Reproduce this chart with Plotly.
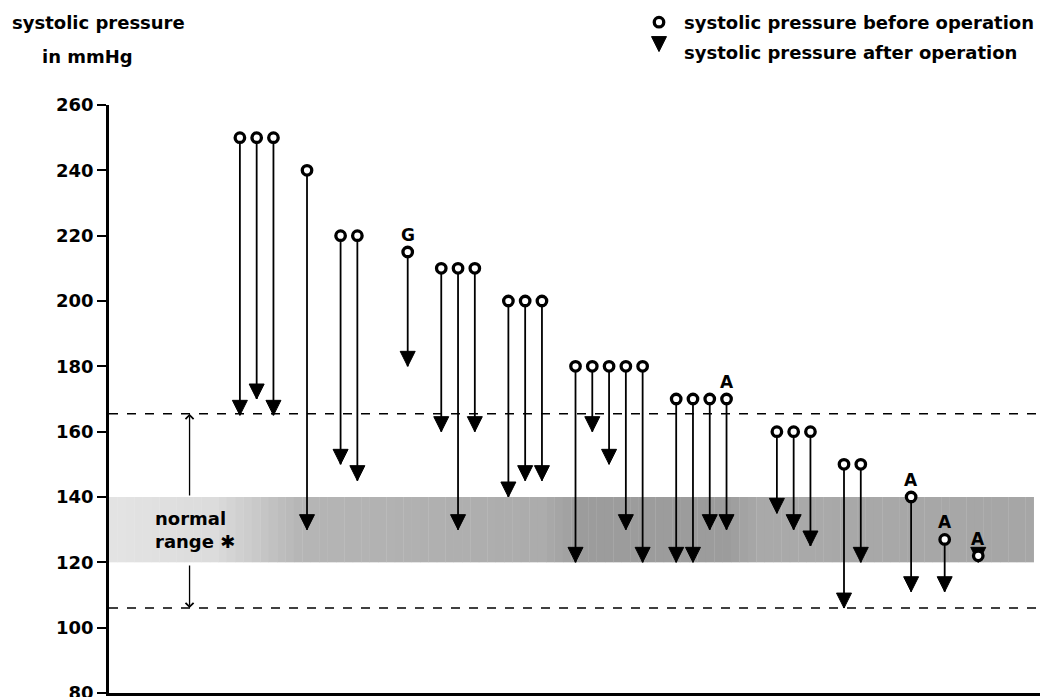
import numpy as np
import plotly.graph_objects as go

# ---------------- data ----------------
case_no = [0, 1, 2, 4, 6, 7, 10, 12, 13, 14, 16, 17, 18, 20, 21, 22, 23, 24,
           26, 27, 28, 29, 32, 33, 34, 36, 37, 40, 42, 44]
before = [250, 250, 250, 240, 220, 220, 215, 210, 210, 210, 200, 200, 200,
          180, 180, 180, 180, 180, 170, 170, 170, 170, 160, 160, 160, 150, 150,
          140, 127, 122]
after = [165, 170, 165, 130, 150, 145, 180, 160, 130, 160, 140, 145, 145,
         120, 160, 150, 130, 120, 120, 120, 130, 130, 135, 130, 125, 106, 120,
         111, 111, 120]
notes = ["", "", "", "", "", "", "G", "", "", "", "", "", "", "", "", "", "",
         "", "", "", "", "A", "", "", "", "", "", "A", "A", "A"]
y_ticks = [80, 100, 120, 140, 160, 180, 200, 220, 240, 260]
normal_low, normal_high = 120, 140
limit_high, limit_low = 165.5, 106

# ---------------- layout constants ----------------
W, H = 1044, 697
ML, MR, MT, MB = 109, 4, 105, 4
PW, PH = W - ML - MR, H - MT - MB
X_RANGE = [-7.8, 47.68]
FONT = "DejaVu Sans"


def px_x(px):
    return (px - ML) / PW


def px_y(py):
    return 1 - (py - MT) / PH


fig = go.Figure()

# shaded normal band (gradient of greys)
stops_x = [-7.8, -1.5, 3.5, 18, 20.5, 29, 31, 47.3]
stops_g = [228, 220, 182, 172, 156, 156, 170, 166]
edges = np.linspace(-7.8, 47.3, 111)
for i in range(len(edges) - 1):
    g = int(np.interp((edges[i] + edges[i + 1]) / 2, stops_x, stops_g))
    fig.add_shape(type="rect", xref="x", yref="y", x0=edges[i], x1=edges[i + 1] + 0.02,
                  y0=normal_low, y1=normal_high, fillcolor=f"rgb({g},{g},{g})",
                  line_width=0, layer="below")

# dashed limits
for lv in (limit_high, limit_low):
    fig.add_shape(type="line", xref="paper", yref="y", x0=0, x1=1, y0=lv, y1=lv,
                  line=dict(color="black", width=1.6, dash="9px,9px"), layer="below")

# connecting lines
lx, ly = [], []
for c, b, a in zip(case_no, before, after):
    lx += [c, c, None]
    ly += [b, a, None]
fig.add_trace(go.Scatter(x=lx, y=ly, mode="lines", line=dict(color="black", width=1.8),
                         showlegend=False, hoverinfo="skip"))

fig.add_trace(go.Scatter(x=case_no, y=after, mode="markers",
                         name="systolic pressure after operation",
                         marker=dict(symbol="arrow-down", size=15, color="black",
                                     line=dict(color="black", width=1)),
                         legendrank=2, legendgroup="a"))
fig.add_trace(go.Scatter(x=case_no, y=before, mode="markers",
                         name="systolic pressure before operation",
                         marker=dict(symbol="circle", size=9.5, color="white",
                                     line=dict(color="black", width=3.3)),
                         legendrank=1, legendgroup="b"))

# notes above circles
for c, b, n in zip(case_no, before, notes):
    if n:
        fig.add_annotation(x=c, y=b, text=f"<b>{n}</b>", showarrow=False, yshift=17,
                           font=dict(family=FONT, size=17, color="black"))

# normal range label and arrows
fig.add_annotation(x=-5.2, y=(normal_low + normal_high) / 2, xanchor="left",
                   text="<b>normal<br>range ✱</b>", showarrow=False, align="left",
                   font=dict(family=FONT, size=18, color="black"))
for y_from, y_to in ((normal_high, limit_high), (normal_low - 0.5, limit_low)):
    fig.add_annotation(x=-3.0, y=y_to, ax=-3.0, ay=y_from, xref="x", yref="y",
                       axref="x", ayref="y", text="", showarrow=True, arrowhead=4,
                       arrowsize=1.2, arrowwidth=1.3, arrowcolor="black")

# axis title
fig.add_annotation(xref="paper", yref="paper", x=px_x(10), y=px_y(23), xanchor="left",
                   yanchor="middle", text="<b>systolic pressure</b>", showarrow=False,
                   font=dict(family=FONT, size=18, color="black"))
fig.add_annotation(xref="paper", yref="paper", x=px_x(40), y=px_y(57), xanchor="left",
                   yanchor="middle", text="<b>in mmHg</b>", showarrow=False,
                   font=dict(family=FONT, size=18, color="black"))

fig.update_layout(
    width=W, height=H, margin=dict(l=ML, r=MR, t=MT, b=MB, autoexpand=False),
    plot_bgcolor="white", paper_bgcolor="white",
    font=dict(family=FONT, size=18, color="black"),
    legend=dict(x=1.0, xanchor="right", y=px_y(4), yanchor="top",
                font=dict(family=FONT, size=18, color="black", weight="bold"),
                tracegroupgap=3, itemwidth=40, bgcolor="rgba(0,0,0,0)"),
    xaxis=dict(range=X_RANGE, showgrid=False, zeroline=False, showticklabels=False,
               ticks="", showline=True, linecolor="black", linewidth=2.5,
               automargin=False),
    yaxis=dict(range=[80, 260], tickvals=y_ticks, showgrid=False, zeroline=False,
               ticks="outside", ticklen=9, tickwidth=2, tickcolor="black",
               showline=True, linecolor="black", linewidth=2.5,
               ticklabeloverflow="allow", automargin=False,
               tickfont=dict(family=FONT, size=18, color="black", weight="bold")),
)

fig.write_html("out.html", config={"displayModeBar": False},
               post_script="document.body.style.margin='0px';"
                           "document.body.style.overflow='hidden';")
